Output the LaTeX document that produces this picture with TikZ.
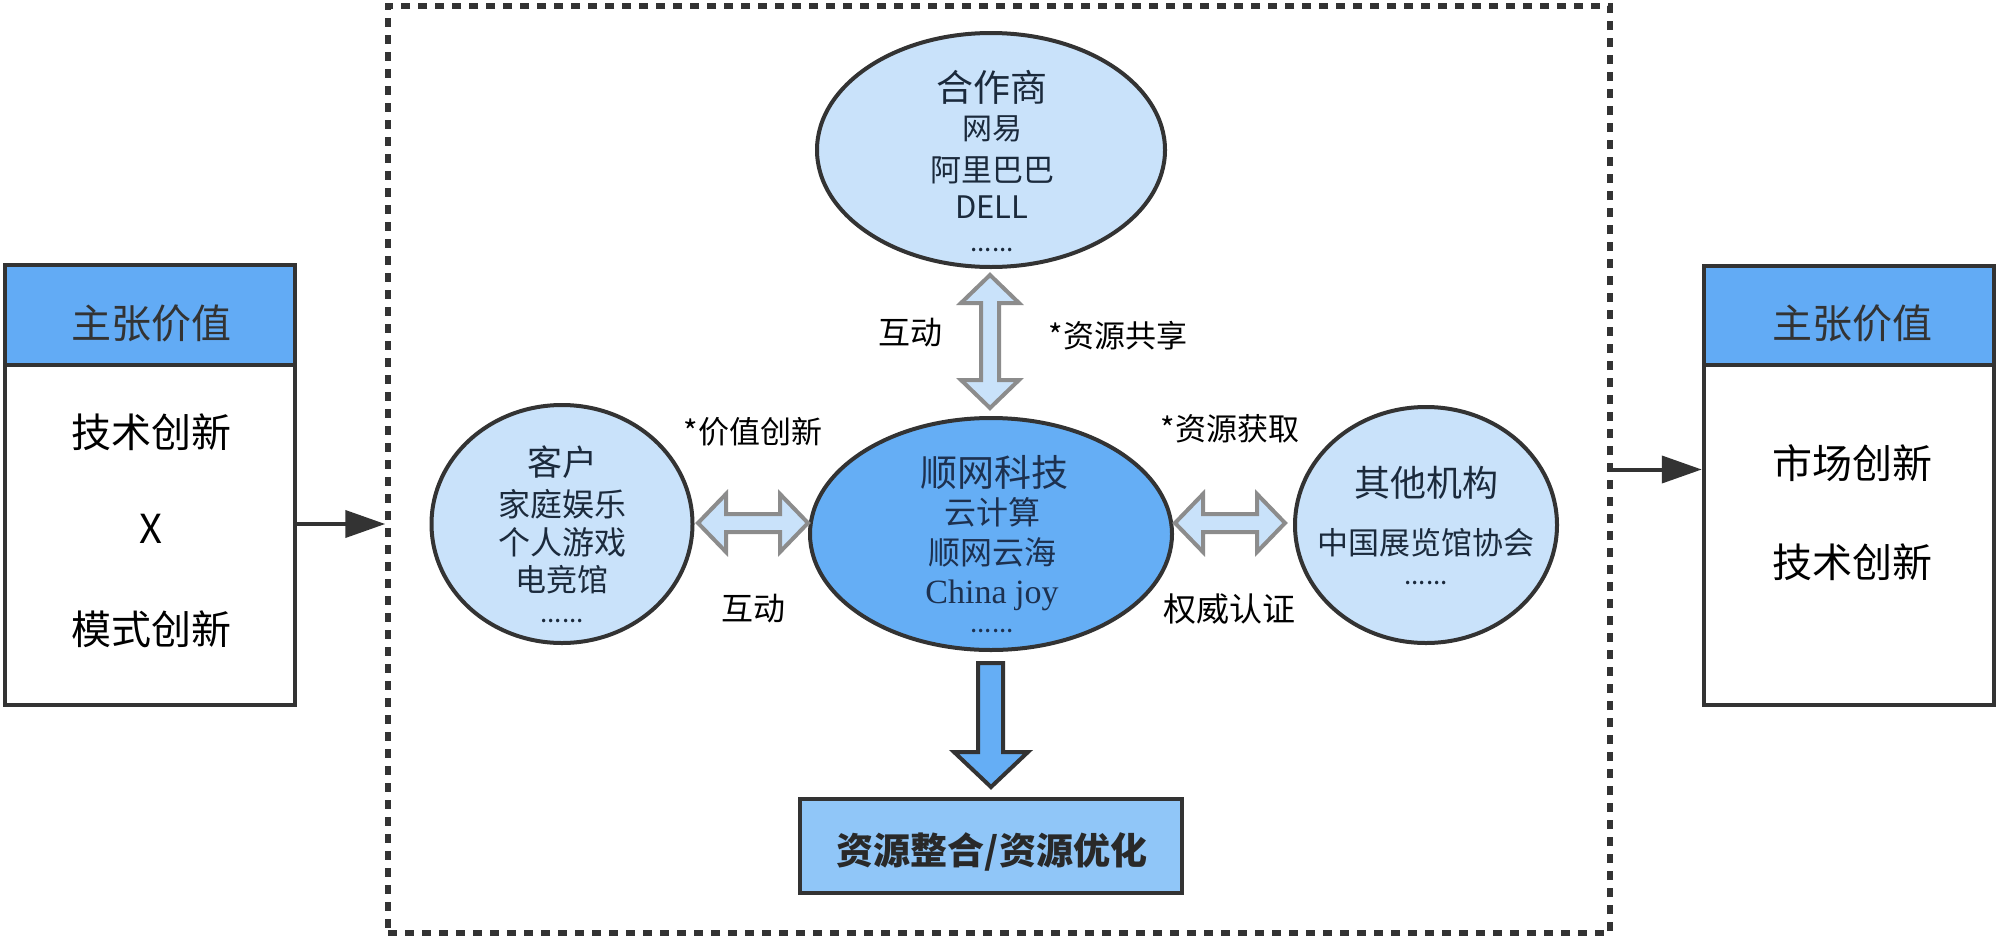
\documentclass[tikz,border=0pt]{standalone}
\usepackage{fontspec}
\setmainfont{Noto Sans CJK SC}
\newfontfamily\serifjoy{Liberation Serif}
\usetikzlibrary{arrows.meta,shapes.geometric}
\definecolor{bord}{HTML}{333333}
\definecolor{hblue}{HTML}{62ABF5}
\definecolor{lblue}{HTML}{C9E2FA}
\definecolor{cblue}{HTML}{65AEF5}
\definecolor{bblue}{HTML}{90C6F8}
\definecolor{agray}{HTML}{8C8C8C}
\definecolor{navy}{HTML}{1B2A3C}
\definecolor{cnavy}{HTML}{1D3150}
\newcommand\fsz[1]{\fontsize{#1}{#1}\selectfont}
\tikzset{
  boxhead/.style={draw=bord, line width=4.5pt, fill=hblue, minimum width=290pt, minimum height=100pt, inner sep=0pt},
  boxbody/.style={draw=bord, line width=4.5pt, fill=white, minimum width=290pt, minimum height=340pt, inner sep=0pt},
  lell/.style={ellipse, draw=bord, line width=4pt, fill=lblue, inner sep=0pt},
  cell/.style={ellipse, draw=bord, line width=4pt, fill=cblue, inner sep=0pt},
  frm/.style={draw=bord, line width=5.5pt, dash pattern=on 9pt off 8pt, inner sep=0pt},
  txt/.style={inner sep=0pt, text=black},
  etxt/.style={inner sep=0pt, text=navy},
  ctxt/.style={inner sep=0pt, text=cnavy},
  dbl/.style={draw=agray, line width=4pt, fill=lblue, line join=miter},
  downarr/.style={draw=bord, line width=4pt, fill=cblue, line join=miter},
  plainarr/.style={draw=bord, line width=4pt, -{Triangle[length=40pt,width=27pt]}},
}
\begin{document}
\begin{tikzpicture}[x=1pt,y=-1pt]
\useasboundingbox (0,0) rectangle (2000,940);
\fill[white] (0,0) rectangle (2000,940);

% dotted frame
\node[frm, minimum width=1222pt, minimum height=927pt] (frame) at (999,469.5) {};

% left box
\node[boxhead] (lhead) at (150,315) {};
\node[boxbody] (lbody) at (150,535) {};
\node[txt, text=bord, font=\fsz{40}] (lh) at (151,323) {主张价值};
\node[txt, font=\fsz{40}] (l1) at (151,432) {技术创新};
\node[txt, font=\fsz{40}] (l2) at (151,529) {X};
\node[txt, font=\fsz{40}] (l3) at (151,629) {模式创新};

% right box
\node[boxhead] (rhead) at (1849,316) {};
\node[boxbody] (rbody) at (1849,535) {};
\node[txt, text=bord, font=\fsz{40}] (rh) at (1852,323) {主张价值};
\node[txt, font=\fsz{40}] (r1) at (1852,463) {市场创新};
\node[txt, font=\fsz{40}] (r2) at (1852,562) {技术创新};

% ellipses
\node[lell, minimum width=348pt, minimum height=234pt] (hz) at (991,150) {};
\node[lell, minimum width=261pt, minimum height=238pt] (kh) at (562,524) {};
\node[cell, minimum width=362pt, minimum height=232pt] (sw) at (991,534) {};
\node[lell, minimum width=262pt, minimum height=236pt] (qt) at (1426,525) {};

% top ellipse text
\node[etxt, font=\fsz{37}] (hz1) at (992,87) {合作商};
\node[etxt, font=\fsz{30}] (hz2) at (992,129) {网易};
\node[etxt, font=\fsz{31}] (hz3) at (992,170) {阿里巴巴};
\node[etxt, font=\fsz{31}] (hz4) at (992,207) {DELL};
\node[etxt, font=\fsz{26}] (hz5) at (992,250) {......};

% left ellipse text
\node[etxt, font=\fsz{35}] (kh1) at (562,462) {客户};
\node[etxt, font=\fsz{32}] (kh2) at (562,504) {家庭娱乐};
\node[etxt, font=\fsz{32}] (kh3) at (562,542) {个人游戏};
\node[etxt, font=\fsz{31}] (kh4) at (562,580) {电竞馆};
\node[etxt, font=\fsz{26}] (kh5) at (562,621) {......};

% center ellipse text
\node[ctxt, font=\fsz{37}] (sw1) at (994,472) {顺网科技};
\node[ctxt, font=\fsz{32}] (sw2) at (992,512) {云计算};
\node[ctxt, font=\fsz{32}] (sw3) at (992,552) {顺网云海};
\node[ctxt, font=\serifjoy\fsz{34}, anchor=base] (sw4) at (992,603) {China joy};
\node[ctxt, font=\fsz{26}] (sw5) at (992,631) {......};

% right ellipse text
\node[etxt, font=\fsz{36}] (qt1) at (1426,483) {其他机构};
\node[etxt, font=\fsz{31}] (qt2) at (1426,543) {中国展览馆协会};
\node[etxt, font=\fsz{26}] (qt3) at (1426,583) {......};

% double arrows
\draw[dbl] (698,523) -- (726,494) -- (726,514) -- (780,514) -- (780,494) -- (808,523)
  -- (780,552) -- (780,532) -- (726,532) -- (726,552) -- cycle;
\draw[dbl] (1175,523) -- (1203,494) -- (1203,514) -- (1257,514) -- (1257,494) -- (1285,523)
  -- (1257,552) -- (1257,532) -- (1203,532) -- (1203,552) -- cycle;
\draw[dbl] (990,275) -- (1019,303) -- (999,303) -- (999,380) -- (1019,380) -- (990,408)
  -- (961,380) -- (981,380) -- (981,303) -- (961,303) -- cycle;

% labels
\node[txt, font=\fsz{32}] (lab1) at (910,333) {互动};
\node[txt, font=\fsz{31}] (lab2) at (1118,336) {*资源共享};
\node[txt, font=\fsz{31}] (lab3) at (753,432) {*价值创新};
\node[txt, font=\fsz{32}] (lab4) at (753,609) {互动};
\node[txt, font=\fsz{31}] (lab5) at (1230,429) {*资源获取};
\node[txt, font=\fsz{33}] (lab6) at (1229,609) {权威认证};

% down arrow
\draw[downarr] (978,663) -- (1003,663) -- (1003,752) -- (1028,752) -- (991,787)
  -- (954,752) -- (978,752) -- cycle;

% bottom box
\node[draw=bord, line width=4.5pt, fill=bblue, minimum width=382pt, minimum height=94pt, inner sep=0pt] (res) at (991,846) {};
\node[txt, text=bord!80!black, font=\bfseries\fsz{37}] (rest) at (992,852) {资源整合/资源优化};

% plain arrows
\draw[plainarr] (lbody.east |- kh.center) -- (frame.west |- kh.center);
\draw[plainarr] (frame.east) -- (rbody.west |- frame.east);
\end{tikzpicture}
\end{document}
